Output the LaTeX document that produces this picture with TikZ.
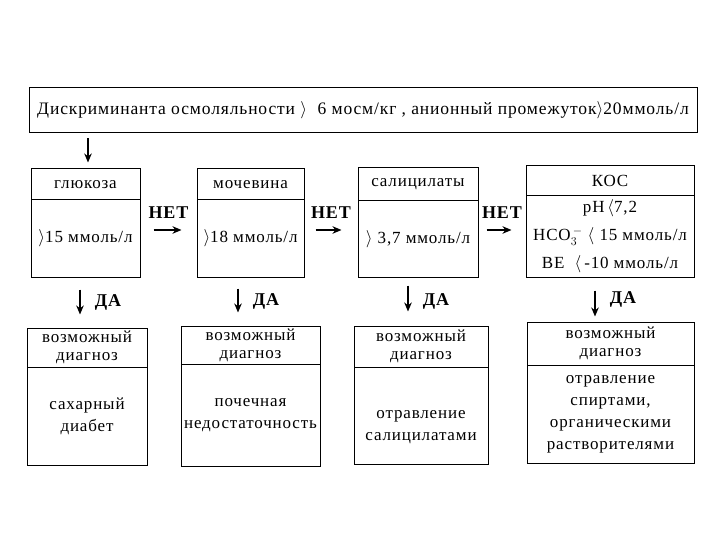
\documentclass[tikz,border=0pt]{standalone}
\usepackage{fontspec}
\setmainfont[LetterSpace=5]{Liberation Serif}
\usetikzlibrary{arrows.meta}
\newcommand{\angr}{\ensuremath{\rangle}}
\newcommand{\angl}{\ensuremath{\langle}}

\begin{document}
\begin{tikzpicture}[
    x=1pt, y=-1pt,
    font=\fontsize{17}{22}\selectfont,
    titlebox/.style={rectangle, draw=black, line width=1pt, inner sep=0pt,
      minimum width=668pt, minimum height=45pt, font=\fontsize{17.5}{22}\selectfont},
    hdbox/.style={rectangle, draw=black, line width=1pt, inner sep=0pt,
      align=center, font=\fontsize{17}{18}\selectfont},
    bdbox/.style={rectangle, draw=black, line width=1pt, inner sep=0pt,
      align=center},
    flowarrow/.style={-{Stealth[length=9pt,width=7.5pt]}, draw=black,
      line width=1.5pt},
    answer/.style={font=\fontsize{18}{20}\selectfont\bfseries, inner sep=1pt}
  ]
  \useasboundingbox (0,0) rectangle (720,540);

  % ============ Title ============
  \node[titlebox] (title) at (363,110.5)
    {Дискриминанта осмоляльности \angr\ \ 6 мосм/кг , анионный промежуток\angr20ммоль/л};

  % ============ Row 1: tests ============
  \node[hdbox, minimum width=109pt, minimum height=31pt] (gluhd) at (85.5,184.5) {глюкоза};
  \node[bdbox, minimum width=109pt, minimum height=77pt] (glubd) at (85.5,238.5) {\angr15 ммоль/л};

  \node[hdbox, minimum width=107pt, minimum height=31pt] (mochd) at (250.5,184.5) {мочевина};
  \node[bdbox, minimum width=107pt, minimum height=77pt] (mocbd) at (250.5,238.5) {\angr18 ммоль/л};

  \node[hdbox, minimum width=120pt, minimum height=33pt] (salhd) at (418,184.5) {салицилаты};
  \node[bdbox, minimum width=120pt, minimum height=76pt] (salbd) at (418,239) {\angr\ 3,7 ммоль/л};

  \node[hdbox, minimum width=168pt, minimum height=30pt] (koshd) at (610,181) {КОС};
  \node[bdbox, minimum width=168pt, minimum height=81pt] (kosbd) at (610,236.5)
    {pH\,\angl7,2\\[6pt] HCO$_3^{\,-}$\ \angl\ 15 ммоль/л\\[6pt] BE \ \angl\,-10 ммоль/л};

  % ============ Row 2: possible diagnosis ============
  \node[hdbox, minimum width=120pt, minimum height=39pt] (dx1hd) at (87,347.5) {возможный\\диагноз};
  \node[bdbox, minimum width=120pt, minimum height=98pt] (dx1bd) at (87,416) {сахарный\\диабет};

  \node[hdbox, minimum width=139pt, minimum height=38pt] (dx2hd) at (250.5,345) {возможный\\диагноз};
  \node[bdbox, minimum width=139pt, minimum height=102pt] (dx2bd) at (250.5,415) {почечная\\недостаточность};

  \node[hdbox, minimum width=134pt, minimum height=41pt] (dx3hd) at (421,346.5) {возможный\\диагноз};
  \node[bdbox, minimum width=134pt, minimum height=97pt] (dx3bd) at (421,415.5)
    {\rule{0pt}{32pt}отравление\\салицилатами};

  \node[hdbox, minimum width=167pt, minimum height=43pt] (dx4hd) at (610.5,343.5) {возможный\\диагноз};
  \node[bdbox, minimum width=167pt, minimum height=98pt] (dx4bd) at (610.5,414)
    {отравление\\спиртами,\\органическими\\растворителями};

  % ============ Arrow columns / row ============
  \coordinate (c0) at (88,0);
  \coordinate (d1) at (80,0);
  \coordinate (d2) at (238,0);
  \coordinate (d3) at (408,0);
  \coordinate (d4) at (595,0);
  \coordinate (n0) at (0,230);

  % title -> glucose
  \draw[flowarrow, shorten <=5pt, shorten >=6pt] (title.south -| c0) -- (gluhd.north -| c0);

  % NO arrows (horizontal)
  \draw[flowarrow, shorten <=13pt, shorten >=15pt] (glubd.east |- n0) --
    node[answer, above=10pt] {НЕТ} (mocbd.west |- n0);
  \draw[flowarrow, shorten <=11pt, shorten >=16pt] (mocbd.east |- n0) --
    node[answer, above=10pt] {НЕТ} (salbd.west |- n0);
  \draw[flowarrow, shorten <=8pt, shorten >=14pt] (salbd.east |- n0) --
    node[answer, above=10pt] {НЕТ} (kosbd.west |- n0);

  % YES arrows (vertical)
  \draw[flowarrow, shorten <=12pt, shorten >=13pt] (glubd.south -| d1) --
    node[answer, right=13pt] {ДА} (dx1hd.north -| d1);
  \draw[flowarrow, shorten <=11pt, shorten >=13pt] (mocbd.south -| d2) --
    node[answer, right=13pt] {ДА} (dx2hd.north -| d2);
  \draw[flowarrow, shorten <=8pt, shorten >=14pt] (salbd.south -| d3) --
    node[answer, right=13pt] {ДА} (dx3hd.north -| d3);
  \draw[flowarrow, shorten <=13pt, shorten >=5pt] (kosbd.south -| d4) --
    node[answer, right=13pt] {ДА} (dx4hd.north -| d4);

\end{tikzpicture}
\end{document}
